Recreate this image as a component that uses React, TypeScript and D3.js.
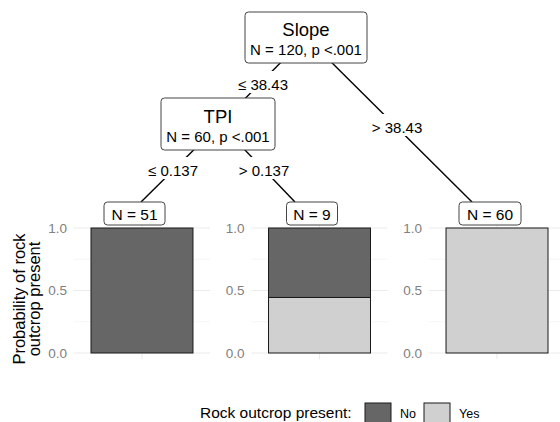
import React from 'react';
import * as d3 from 'd3';

// ---- data ----
const innerNames = ['Slope', 'TPI'];
const innerStats = ['N = 120, p <.001', 'N = 60, p <.001'];
const edgeLabels = ['\u2264 38.43', '> 38.43', '\u2264 0.137', '> 0.137'];
const leafIds = ['leaf1', 'leaf2', 'leaf3'];
const leafN = [51, 9, 60];
const leafYes = [0, 4, 60];
const classes = ['No', 'Yes'];
const yTicks = [0, 0.5, 1];
const yMinor = [0.25, 0.75];
const legendTitle = 'Rock outcrop present:';
const yTitle = ['Probability of rock', 'outcrop present'];

// ---- layout (tree drawing positions) ----
const W = 560;
const H = 422;
const FONT = "'Liberation Sans', Arial, sans-serif";
const innerBoxes = [
  { cx: 306, cy: 37, x0: 245, x1: 367, y0: 12, y1: 63, nameY: 35.5, statY: 55 },
  { cx: 220, cy: 124, x0: 161, x1: 275, y0: 98, y1: 150, nameY: 123, statY: 142 },
];
const leafAnchorX = [141, 295, 472];
const leafBoxCx = [134.5, 312, 490];
const leafBoxW = [61, 51, 62];
const leafBoxY0 = 202;
const leafBoxY1 = 225;
const edges = [
  { from: 0, toX: 220, toY: 124, lx: 263, ly: 90 },
  { from: 0, toX: leafAnchorX[2], toY: leafBoxY0, lx: 397, ly: 133 },
  { from: 1, toX: leafAnchorX[0], toY: leafBoxY0, lx: 173, ly: 176 },
  { from: 1, toX: leafAnchorX[1], toY: leafBoxY0, lx: 264, ly: 176 },
];
const legendKeyX = [365, 424];

const colors: Record<string, string> = { No: '#666666', Yes: '#d0d0d0' };

export default function App() {
  const panel = d3.scaleBand<string>().domain(leafIds).range([74, 565]).paddingInner(0.234).paddingOuter(0);
  const y = d3.scaleLinear().domain([-0.05, 1.05]).range([359.25, 221.75]);
  const bw = panel.bandwidth();

  const edgeW = (s: string) => s.length * 7.6 + 4;

  return (
    <svg width={W} height={H} style={{ position: 'absolute', left: 0, top: 0, background: '#fff', fontFamily: FONT }}>
      <rect x={0} y={0} width={W} height={H} fill="#fff" />
      {/* panels */}
      <g>
        {leafIds.map((id, i) => {
          const x0 = panel(id)!;
          const px = d3.scaleLinear().domain([0.4, 1.6]).range([x0, x0 + bw]);
          const pYes = leafYes[i] / leafN[i];
          const stack = [
            { cls: 'Yes', a: 0, b: pYes },
            { cls: 'No', a: pYes, b: 1 },
          ];
          return (
            <g key={id}>
              {yMinor.map((t) => (
                <line key={'m' + t} x1={x0} x2={x0 + bw} y1={y(t)} y2={y(t)} stroke="#f0f0f0" strokeWidth={0.6} />
              ))}
              {yTicks.map((t) => (
                <line key={'g' + t} x1={x0} x2={x0 + bw} y1={y(t)} y2={y(t)} stroke="#ebebeb" strokeWidth={1.1} />
              ))}
              <line x1={px(1)} x2={px(1)} y1={y(-0.05)} y2={y(1.05)} stroke="#ebebeb" strokeWidth={1.1} />
              {yTicks.map((t) => (
                <text key={'t' + t} x={x0 - 7} y={y(t) + 4.8} fontSize={13.5} fill="#808080" textAnchor="end">
                  {t.toFixed(1)}
                </text>
              ))}
              {stack.filter((s) => s.b > s.a).map((s) => (
                <rect
                  key={s.cls}
                  x={px(0.55)}
                  width={px(1.45) - px(0.55)}
                  y={y(s.b)}
                  height={y(s.a) - y(s.b)}
                  fill={colors[s.cls]}
                  stroke="#1a1a1a"
                  strokeWidth={1}
                />
              ))}
            </g>
          );
        })}
      </g>

      {/* edges */}
      {edges.map((e, i) => {
        const p = innerBoxes[e.from];
        return <line key={'e' + i} x1={p.cx} y1={p.cy} x2={e.toX} y2={e.toY} stroke="#000" strokeWidth={1.4} />;
      })}
      {edges.map((e, i) => {
        const w = edgeW(edgeLabels[i]);
        return (
          <g key={'el' + i}>
            <rect x={e.lx - w / 2} y={e.ly - 19} width={w} height={22} fill="#fff" />
            <text x={e.lx} y={e.ly} fontSize={15} textAnchor="middle" fill="#000">{edgeLabels[i]}</text>
          </g>
        );
      })}

      {/* inner nodes */}
      {innerBoxes.map((b, i) => (
        <g key={'n' + i}>
          <rect x={b.x0} y={b.y0} width={b.x1 - b.x0} height={b.y1 - b.y0} rx={3.5} fill="#fff" stroke="#444" strokeWidth={1} />
          <text x={(b.x0 + b.x1) / 2} y={b.nameY} fontSize={18.5} textAnchor="middle" fill="#000">{innerNames[i]}</text>
          <text x={(b.x0 + b.x1) / 2} y={b.statY} fontSize={15} textAnchor="middle" fill="#000">{innerStats[i]}</text>
        </g>
      ))}

      {/* leaf labels */}
      {leafIds.map((id, i) => (
        <g key={'lb' + id}>
          <rect x={leafBoxCx[i] - leafBoxW[i] / 2} y={leafBoxY0} width={leafBoxW[i]} height={leafBoxY1 - leafBoxY0} rx={3.5} fill="#fff" stroke="#444" strokeWidth={1} />
          <text x={leafBoxCx[i]} y={220} fontSize={15.5} textAnchor="middle" fill="#000">{'N = ' + leafN[i]}</text>
        </g>
      ))}

      {/* y title */}
      <text transform="translate(25,299) rotate(-90)" fontSize={16.5} textAnchor="middle" fill="#000">{yTitle[0]}</text>
      <text transform="translate(39.5,299) rotate(-90)" fontSize={16.5} textAnchor="middle" fill="#000">{yTitle[1]}</text>

      {/* legend */}
      <text x={200} y={418} fontSize={15.5} fill="#000">{legendTitle}</text>
      {classes.map((c, i) => {
        const kx = legendKeyX[i];
        return (
          <g key={'lg' + c}>
            <rect x={kx} y={403} width={26} height={26} fill={colors[c]} stroke="#1a1a1a" strokeWidth={1} />
            <text x={kx + 35} y={418} fontSize={12.5} fill="#000">{c}</text>
          </g>
        );
      })}
    </svg>
  );
}
